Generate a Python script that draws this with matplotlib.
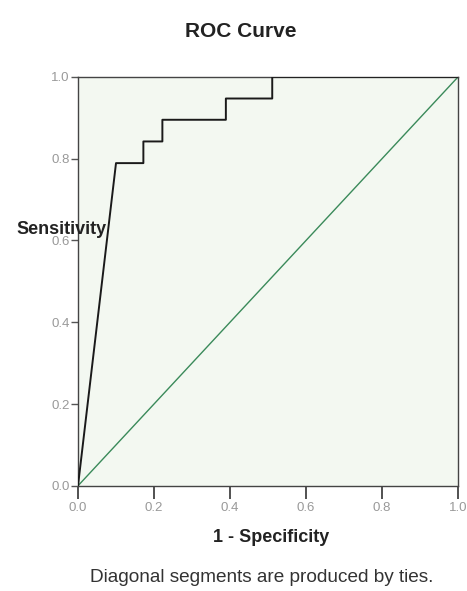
import matplotlib
matplotlib.use("Agg")
import matplotlib.pyplot as plt

plt.rcParams["font.family"] = ["Liberation Sans", "DejaVu Sans"]

# ROC curve points (1 - specificity, sensitivity)
fpr = [0.0, 0.10, 0.10, 0.172, 0.172, 0.222, 0.222, 0.389, 0.389, 0.511, 0.511, 1.0]
tpr = [0.0, 0.789, 0.789, 0.789, 0.842, 0.842, 0.895, 0.895, 0.947, 0.947, 1.0, 1.0]
ref_x = [0.0, 1.0]
ref_y = [0.0, 1.0]
ticks = [0.0, 0.2, 0.4, 0.6, 0.8, 1.0]

fig = plt.figure(figsize=(4.67, 5.91), dpi=100)
fig.patch.set_facecolor("white")
ax = fig.add_axes([0.167, 0.178, 0.814, 0.692])
ax.set_facecolor("#f3f8f1")

ax.plot(ref_x, ref_y, color="#3a8a5a", lw=1.0, zorder=2)
ax.plot(fpr, tpr, color="#1a1a1a", lw=1.4, zorder=3)

ax.set_xlim(0, 1)
ax.set_ylim(0, 1)
ax.set_xticks(ticks)
ax.set_yticks(ticks)
ax.set_xticklabels([f"{t:.1f}" for t in ticks])
ax.set_yticklabels([f"{t:.1f}" for t in ticks])
ax.tick_params(axis="x", direction="out", length=9, width=1.2, colors="#333333",
               labelcolor="#999999", labelsize=9.5, pad=3)
ax.tick_params(axis="y", direction="out", length=5, width=1.0, colors="#555555",
               labelcolor="#999999", labelsize=9.5, pad=1)
for s in ax.spines.values():
    s.set_color("#444444")
    s.set_linewidth(1.0)

fig.text(0.516, 0.946, "ROC Curve", ha="center", va="center",
         fontsize=15, fontweight="bold", color="#222222")
fig.text(0.036, 0.611, "Sensitivity", ha="left", va="center",
         fontsize=13, fontweight="bold", color="#222222", zorder=5)
fig.text(0.58, 0.091, "1 - Specificity", ha="center", va="center",
         fontsize=13, fontweight="bold", color="#222222")
fig.text(0.561, 0.022, "Diagonal segments are produced by ties.", ha="center",
         va="center", fontsize=13.7, color="#333333")

fig.savefig("out.png", dpi=100)
